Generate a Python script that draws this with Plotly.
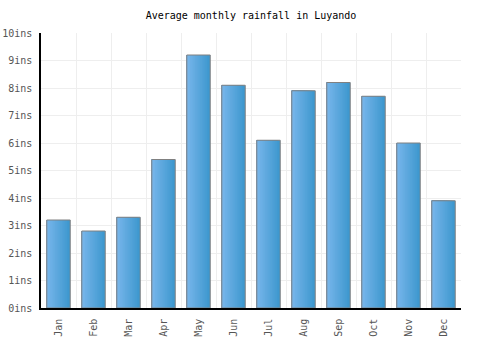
import plotly.graph_objects as go

months = ["Jan", "Feb", "Mar", "Apr", "May", "Jun", "Jul", "Aug", "Sep", "Oct", "Nov", "Dec"]
rainfall = [3.2, 2.8, 3.3, 5.4, 9.2, 8.1, 6.1, 7.9, 8.2, 7.7, 6.0, 3.9]
y_ticks = list(range(0, 11))
y_tick_text = [f"{v}ins" for v in y_ticks]

font_family = "DejaVu Sans Mono, monospace"

bar_w = 0.67
steps = 14
light = (0x76, 0xb5, 0xea)
dark = (0x3d, 0x97, 0xce)

fig = go.Figure()
# horizontal gradient: darkest full-width layer first, lighter narrower layers on top, all left-aligned
for i in range(steps):
    t = i / (steps - 1)
    c = tuple(round(dark[k] + (light[k] - dark[k]) * t) for k in range(3))
    w = bar_w * (1 - i / steps)
    fig.add_trace(go.Bar(
        x=months, y=rainfall, width=w, offset=-bar_w / 2,
        marker=dict(color="rgb(%d,%d,%d)" % c, line=dict(width=0)),
        hoverinfo="skip" if i else "x+y",
    ))
# outline
fig.add_trace(go.Bar(
    x=months, y=rainfall, width=bar_w, offset=-bar_w / 2,
    marker=dict(color="rgba(0,0,0,0)", line=dict(color="#808080", width=1)),
    hoverinfo="skip",
))

fig.update_layout(
    width=500, height=350,
    margin=dict(l=41, r=39, t=33, b=42),
    barmode="overlay",
    paper_bgcolor="white", plot_bgcolor="white",
    title=dict(text="Average monthly rainfall in Luyando", x=0.5, xref="paper", y=0.955, yanchor="middle",
               font=dict(family=font_family, size=10, color="#000")),
    showlegend=False,
    font=dict(family=font_family, size=10, color="#555"),
)
fig.update_xaxes(
    type="category", tickangle=-90, tickson="boundaries", showgrid=True, gridcolor="#eeeeee",
    showline=True, linecolor="#000", linewidth=1.5, ticks="", tickfont=dict(size=10, color="#555"),
    automargin=False, ticklabelstandoff=5,
)
fig.update_yaxes(
    range=[0, 10], tickmode="array", tickvals=y_ticks, ticktext=y_tick_text, showgrid=True, gridcolor="#eeeeee",
    showline=True, linecolor="#000", linewidth=1.5, ticks="", zeroline=False,
    tickfont=dict(size=10, color="#555"), automargin=False, ticklabelstandoff=5,
)

fig.write_html("out.html")
